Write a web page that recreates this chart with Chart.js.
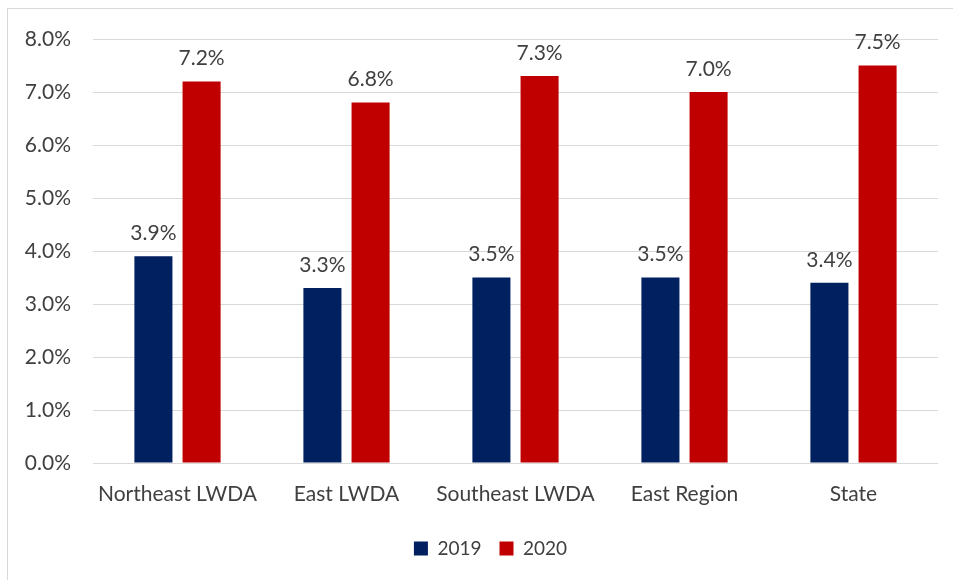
<!DOCTYPE html>
<html>
<head>
<meta charset="utf-8">
<script src="https://cdn.jsdelivr.net/npm/chart.js@4/dist/chart.umd.min.js"></script>
<style>
  html, body { margin: 0; padding: 0; background: #fff; overflow: hidden; }
  #wrap { position: absolute; left: 7px; top: 8px; width: 980px; height: 620px; border: 1px solid #d9d9d9; }
  #chart { position: absolute; left: 0; top: 0; }
</style>
</head>
<body>
<div id="wrap"></div>
<canvas id="chart" width="953" height="580"></canvas>
<script>
const categories = ['Northeast LWDA', 'East LWDA', 'Southeast LWDA', 'East Region', 'State'];
const values2019 = [3.9, 3.3, 3.5, 3.5, 3.4];
const values2020 = [7.2, 6.8, 7.3, 7.0, 7.5];
const yTicks = [0, 1, 2, 3, 4, 5, 6, 7, 8];

const textColor = '#404040';
const fontFamily = "Lato, 'Open Sans', sans-serif";

/* draws the value above each bar */
const barLabels = {
    id: 'barLabels',
    afterDatasetsDraw(chart) {
        const ctx = chart.ctx;
        ctx.save();
        ctx.font = '21px ' + fontFamily;
        ctx.fillStyle = textColor;
        ctx.textAlign = 'center';
        ctx.textBaseline = 'middle';
        chart.data.datasets.forEach(function (ds, i) {
            chart.getDatasetMeta(i).data.forEach(function (bar, j) {
                ctx.fillText(ds.data[j].toFixed(1) + '%', bar.x, bar.y - 23);
            });
        });
        ctx.restore();
    }
};

/* legend sits centred under the plot area, not the whole canvas */
const legendShift = {
    id: 'legendShift',
    afterLayout(chart) {
        const lg = chart.legend;
        const shift = (chart.chartArea.left + chart.chartArea.right) / 2 - (lg.left + lg.right) / 2 - 25;
        lg.left += shift;
        lg.right += shift;
    }
};

const myChart = new Chart(document.getElementById('chart'), {
    type: 'bar',
    data: {
        labels: categories,
        datasets: [{
            label: '2019',
            data: values2019,
            backgroundColor: '#002060',
            categoryPercentage: 0.57,
            barPercentage: 0.79
        }, {
            label: '2020',
            data: values2020,
            backgroundColor: '#C00000',
            categoryPercentage: 0.57,
            barPercentage: 0.79
        }]
    },
    options: {
        responsive: false,
        animation: false,
        layout: { padding: { left: 0, right: 15, top: 39, bottom: 12 } },
        plugins: {
            legend: {
                position: 'bottom',
                labels: {
                    color: textColor,
                    font: { size: 19, family: fontFamily },
                    boxWidth: 14,
                    boxHeight: 14,
                    padding: 18
                }
            },
            tooltip: { enabled: false }
        },
        scales: {
            x: {
                grid: { display: false, drawTicks: false },
                border: { display: false },
                ticks: { color: textColor, font: { size: 21, family: fontFamily }, padding: 19 },
                afterFit: function (scale) { scale.height = 58; }
            },
            y: {
                min: 0,
                max: 8,
                afterBuildTicks: function (axis) {
                    axis.ticks = yTicks.map(function (v) { return { value: v }; });
                },
                grid: { color: '#d9d9d9', lineWidth: 1, drawTicks: false },
                border: { display: false },
                ticks: {
                    color: textColor,
                    font: { size: 21, family: fontFamily },
                    padding: 22,
                    callback: function (v) { return v.toFixed(1) + '%'; }
                },
                afterFit: function (scale) { scale.width = 93; }
            }
        }
    },
    plugins: [barLabels, legendShift]
});
</script>
</body>
</html>
